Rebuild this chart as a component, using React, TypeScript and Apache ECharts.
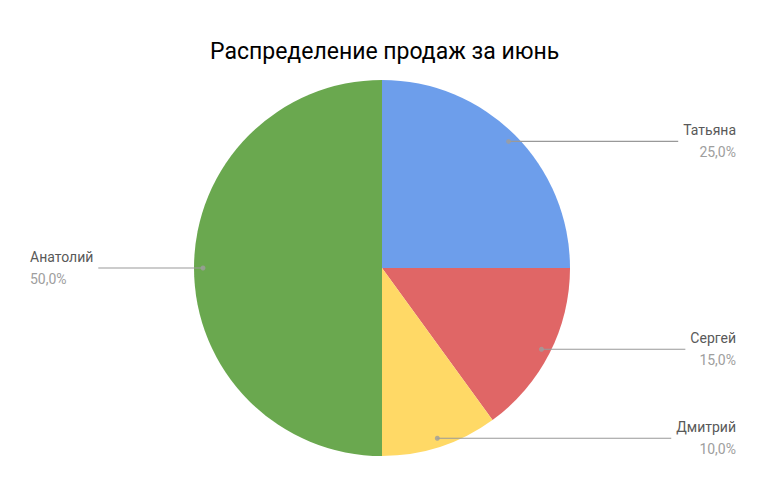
import { useEffect, useRef } from 'react';
import * as echarts from 'echarts';

const names = ['Татьяна', 'Сергей', 'Дмитрий', 'Анатолий'];
const values = [25, 15, 10, 50];
const colors = ['#6d9eeb', '#e06666', '#ffd966', '#6aa84f'];
const titleText = 'Распределение продаж за июнь';

const CX = 382;
const CY = 268;
const R = 188;
const DOT_R = 179;

const App = () => {
    const chartRef = useRef<HTMLDivElement>(null);

    useEffect(() => {
        if (!chartRef.current) return;
        const chart = echarts.init(chartRef.current, null, { renderer: 'svg' });

        const total = values.reduce((a, b) => a + b, 0);
        let acc = 0;
        // dot at the start of each leader line, on the slice mid-angle
        const dotAngles = values.map((v) => {
            const mid = acc + v / 2;
            acc += v;
            return [DOT_R, (mid / total) * 360];
        });

        const pctText = (p: number) => p.toFixed(1).replace('.', ',') + '%';

        chart.setOption({
            animation: false,
            backgroundColor: '#ffffff',
            textStyle: { fontFamily: 'Roboto' },
            title: {
                text: titleText,
                left: 205,
                top: 35,
                textStyle: { fontSize: 23, fontWeight: 'normal', color: '#000', fontFamily: 'Roboto' }
            },
            polar: { center: [CX, CY], radius: R },
            angleAxis: {
                type: 'value', min: 0, max: 360, startAngle: 90, clockwise: true,
                show: false
            },
            radiusAxis: { type: 'value', min: 0, max: R, show: false },
            series: [
                {
                    type: 'pie',
                    center: [CX, CY],
                    radius: [0, R],
                    startAngle: 90,
                    clockwise: true,
                    silent: true,
                    label: { show: false },
                    labelLine: { show: false },
                    data: names.map((n, i) => ({ name: n, value: values[i], itemStyle: { color: colors[i] } }))
                },
                {
                    type: 'pie',
                    center: [CX, CY],
                    radius: [0, DOT_R],
                    startAngle: 90,
                    clockwise: true,
                    silent: true,
                    z: 3,
                    itemStyle: { color: 'rgba(0,0,0,0)' },
                    label: {
                        show: true,
                        position: 'outside',
                        alignTo: 'edge',
                        edgeDistance: 40,
                        formatter: (p: any) => `{n|${p.name}}\n{p|${pctText(p.percent)}}`,
                        rich: {
                            n: { fontSize: 14, color: '#595959', lineHeight: 22, fontFamily: 'Roboto' },
                            p: { fontSize: 14, color: '#9e9e9e', lineHeight: 22, fontFamily: 'Roboto' }
                        }
                    },
                    labelLine: {
                        show: true,
                        length: 0.01,
                        length2: 0,
                        lineStyle: { color: '#999999', width: 1.2 }
                    },
                    data: names.map((n, i) => ({
                        name: n,
                        value: values[i],
                        label: i === 3 ? { edgeDistance: 30 } : undefined
                    }))
                },
                {
                    type: 'scatter',
                    coordinateSystem: 'polar',
                    silent: true,
                    z: 4,
                    symbolSize: 5,
                    itemStyle: { color: '#9e9e9e' },
                    data: dotAngles
                }
            ]
        });

        return () => chart.dispose();
    }, []);

    return <div ref={chartRef} style={{ position: 'fixed', left: 0, top: 0, width: 776, height: 491 }} />;
};

export default App;
